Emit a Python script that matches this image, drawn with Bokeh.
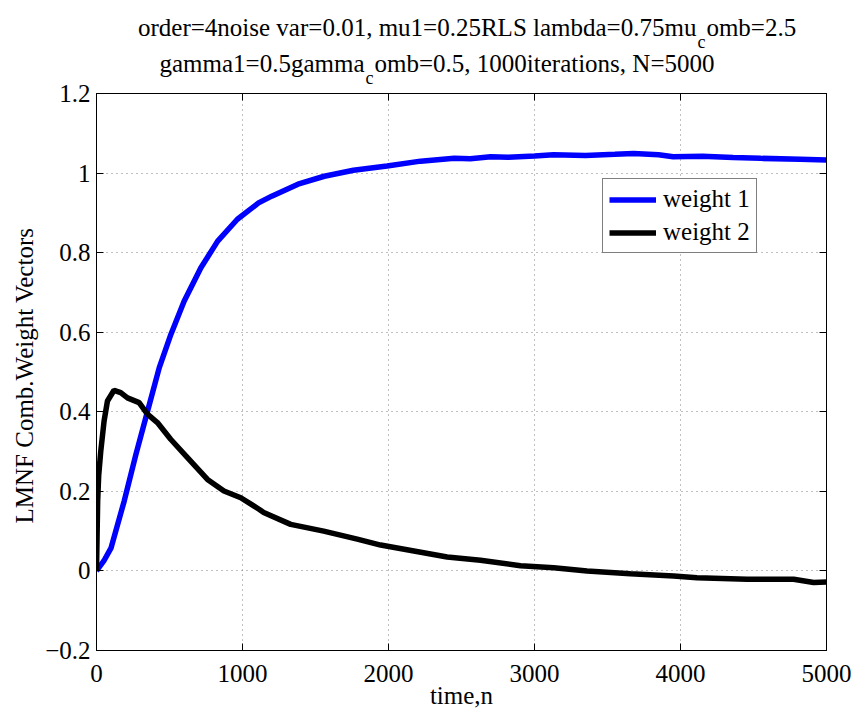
from bokeh.plotting import figure
from bokeh.models import (Label, Legend, LegendItem, LinearAxis, FixedTicker,
                          CustomJSTickFormatter)
from bokeh.embed import file_html
from bokeh.resources import INLINE

# --- data: LMNF combination weight vectors over time ---
w1_n = [0, 50, 100, 190, 270, 350, 430, 510, 600, 715, 830, 965, 1110, 1200,
        1380, 1560, 1760, 1990, 2220, 2450, 2560, 2700, 2820, 3000, 3130,
        3350, 3550, 3680, 3850, 3950, 4150, 4360, 4550, 4820, 5000]
w1_val = [0.0, 0.025, 0.058, 0.176, 0.293, 0.402, 0.511, 0.595, 0.678, 0.762,
          0.829, 0.884, 0.925, 0.942, 0.972, 0.992, 1.007, 1.018, 1.030,
          1.037, 1.036, 1.041, 1.040, 1.043, 1.046, 1.044, 1.047, 1.049,
          1.046, 1.041, 1.042, 1.039, 1.037, 1.035, 1.033]

w2_n = [0, 4, 8, 15, 29, 52, 75, 120, 166, 212, 292, 349, 417, 508, 623, 760,
        873, 988, 1113, 1145, 1330, 1556, 1786, 1946, 2174, 2402, 2630, 2904,
        3132, 3360, 3657, 3953, 4113, 4456, 4775, 4912, 5000]
w2_val = [0.0, 0.09, 0.176, 0.24, 0.30, 0.377, 0.427, 0.454, 0.448, 0.435,
          0.423, 0.394, 0.373, 0.331, 0.285, 0.230, 0.201, 0.184, 0.155,
          0.147, 0.117, 0.100, 0.080, 0.065, 0.050, 0.035, 0.027, 0.013,
          0.008, 0.000, -0.007, -0.013, -0.017, -0.021, -0.021, -0.029,
          -0.028]

x_ticks = [0, 1000, 2000, 3000, 4000, 5000]
x_tick_labels = ["0", "1000", "2000", "3000", "4000", "5000"]
y_ticks = [-0.2, 0, 0.2, 0.4, 0.6, 0.8, 1, 1.2]
y_tick_labels = ["\u22120.2", "0", "0.2", "0.4", "0.6", "0.8", "1", "1.2"]

series_names = ["weight 1", "weight 2"]
series_colors = ["#0000ff", "#000000"]

FONT = "Liberation Serif"
FS = "25px"
W, H = 858, 709
FL, FR, FT, FB = 96, 826, 93, 650   # frame edges on the canvas (px)
X0, X1, Y0, Y1 = 0, 5000, -0.2, 1.2

p = figure(width=W, height=H, x_range=(X0, X1), y_range=(Y0, Y1),
           output_backend="svg", toolbar_location=None,
           min_border_left=FL, min_border_right=W - FR,
           min_border_top=FT, min_border_bottom=H - FB,
           x_axis_location=None, y_axis_location=None)
p.background_fill_color = "white"
p.border_fill_color = "white"
p.outline_line_color = "black"
p.outline_line_width = 1

blank = CustomJSTickFormatter(code="return ''")


def make_axis(ticks, labels, show_labels):
    ax = LinearAxis(ticker=FixedTicker(ticks=ticks))
    if show_labels:
        ax.major_label_overrides = {t: s for t, s in zip(ticks, labels)}
        ax.major_label_text_font = FONT
        ax.major_label_text_font_size = FS
        ax.major_label_text_color = "black"
    else:
        ax.formatter = blank
        ax.major_label_text_font_size = "0px"
        ax.major_label_standoff = 0
    ax.axis_line_color = "black"
    ax.major_tick_line_color = "black"
    ax.major_tick_in = 7
    ax.major_tick_out = 0
    ax.minor_tick_line_color = None
    ax.minor_tick_in = 0
    ax.minor_tick_out = 0
    return ax


bottom = make_axis(x_ticks, x_tick_labels, True)
bottom.major_label_standoff = 14
left = make_axis(y_ticks, y_tick_labels, True)
left.major_label_standoff = 6
p.add_layout(bottom, "below")
p.add_layout(left, "left")
p.add_layout(make_axis(x_ticks, x_tick_labels, False), "above")
p.add_layout(make_axis(y_ticks, y_tick_labels, False), "right")

# dotted grid
p.xgrid.ticker = FixedTicker(ticks=x_ticks)
p.ygrid.ticker = FixedTicker(ticks=y_ticks)
for g in (p.xgrid, p.ygrid):
    g.grid_line_color = "#808080"
    g.grid_line_dash = "1 4"
    g.grid_line_width = 1

r1 = p.line(w1_n, w1_val, line_color=series_colors[0], line_width=5.5)
r2 = p.line(w2_n, w2_val, line_color=series_colors[1], line_width=5.5)

legend = Legend(items=[LegendItem(label=series_names[0], renderers=[r1]),
                       LegendItem(label=series_names[1], renderers=[r2])],
                location=(602 - FL, FB - 253))
legend.label_text_font = FONT
legend.label_text_font_size = FS
legend.label_text_color = "black"
legend.glyph_width = 47
legend.glyph_height = 27
legend.label_height = 27
legend.label_standoff = 7
legend.spacing = 5
legend.padding = 6
legend.margin = 0
legend.border_line_color = "black"
legend.border_line_width = 1
legend.background_fill_color = "white"
legend.background_fill_alpha = 1
p.add_layout(legend, "center")


def px_to_x(px):
    return X0 + (px - FL) / (FR - FL) * (X1 - X0)


def py_to_y(py):
    return Y0 + (FB - py) / (FB - FT) * (Y1 - Y0)


def text(side, px, py, s, size=FS, align="left", angle=0):
    # texts around the frame live in the side panels so they are not clipped
    p.add_layout(Label(x=px_to_x(px), y=py_to_y(py), text=s,
                       text_font=FONT, text_font_size=size,
                       text_color="black", text_align=align,
                       text_baseline="alphabetic", angle=angle), side)


GAP = "\u2009\u2009"   # room for the subscript

# two-line title with subscripts
text("above", 137.5, 26.7,
     "order=4noise var=0.01, mu1=0.25RLS lambda=0.75mu" + GAP + "omb=2.5")
text("right", 697, 41.7, "c", size="18px")
text("above", 159, 62.7,
     "gamma1=0.5gamma" + GAP + "omb=0.5, 1000iterations, N=5000")
text("right", 365, 77.7, "c", size="18px")

# axis titles
text("above", 461, 695, "time,n", align="center")
text("left", 24, 523, "LMNF Comb.Weight Vectors", angle=1.5708)

open("out.html", "w").write(file_html(p, INLINE))
